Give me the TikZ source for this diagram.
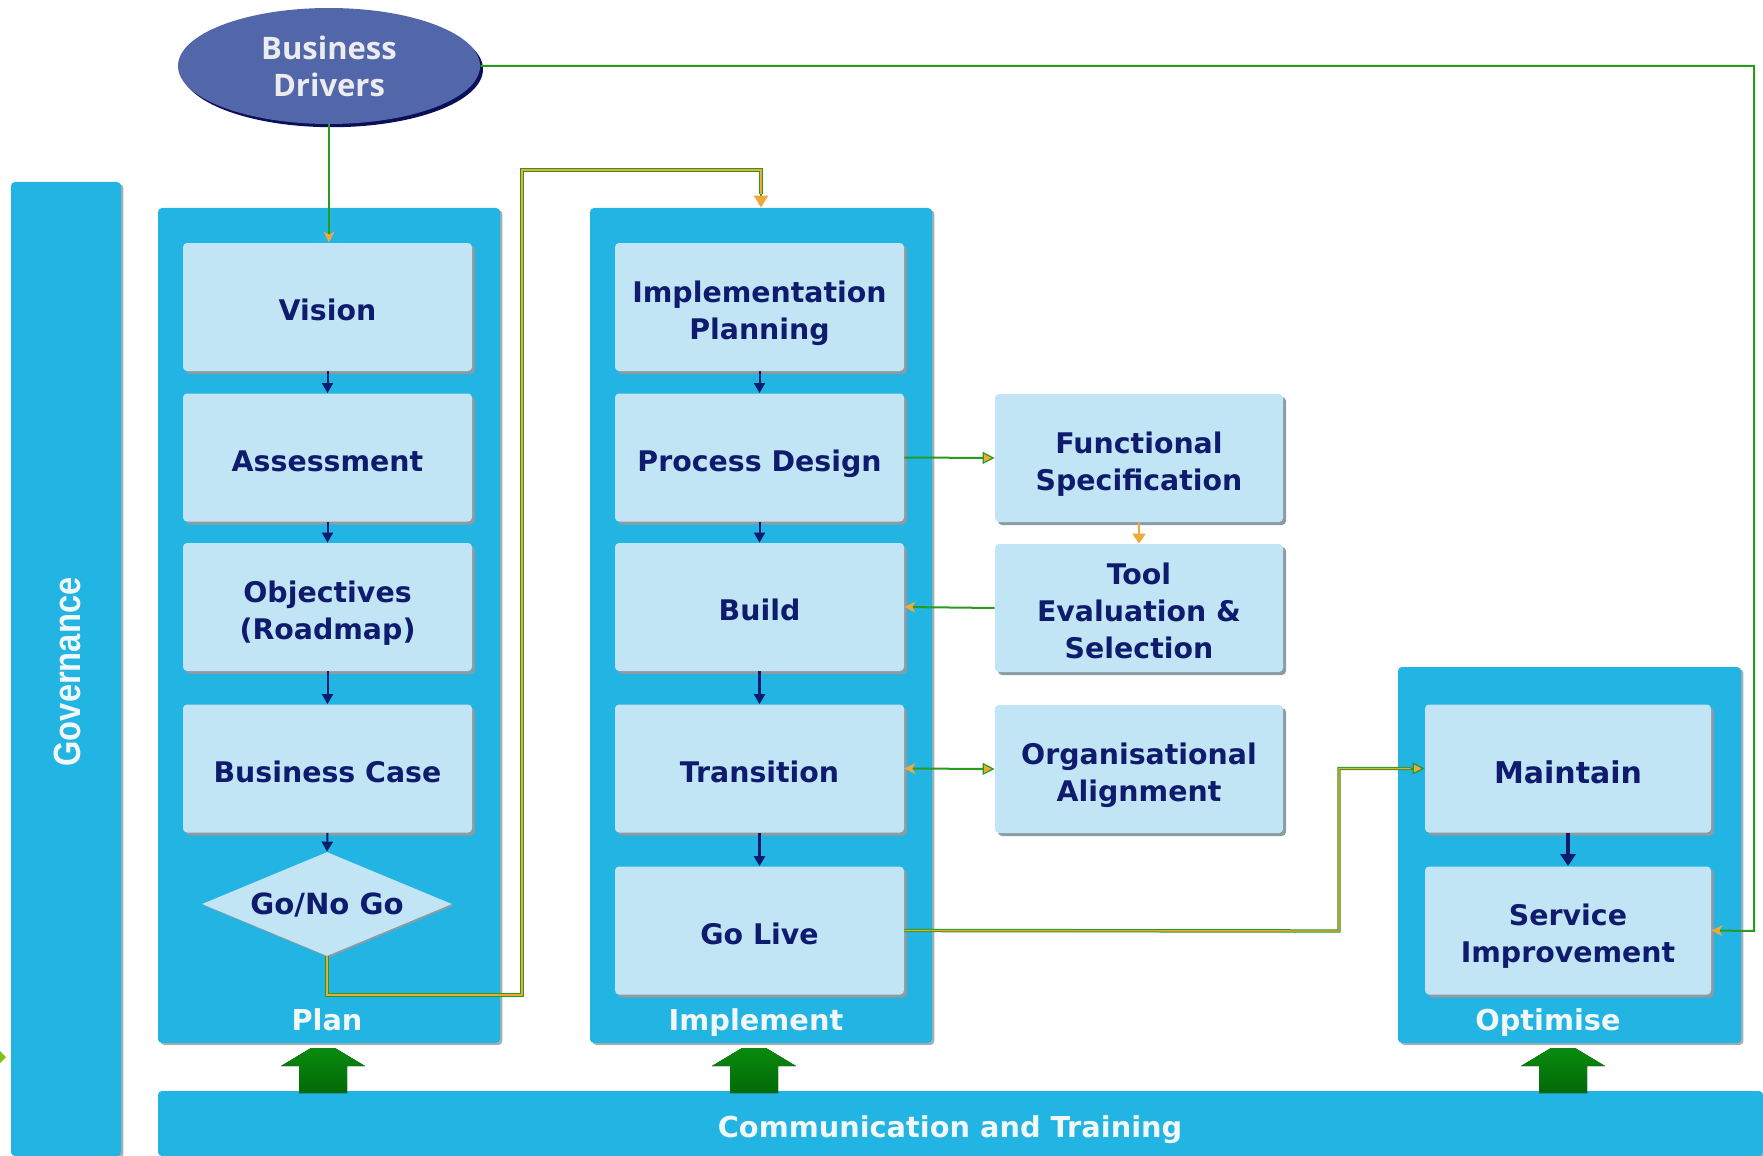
\documentclass[tikz,border=0pt]{standalone}
\usepackage{fontspec}
\usepackage{graphicx}
\setmainfont{DejaVu Sans}
\newfontfamily\bdfont{Open Sans}
\newfontfamily\govfont{Liberation Sans}
\usetikzlibrary{shapes.geometric,arrows.meta,shadows}
\definecolor{outerblue}{HTML}{22B4E3}
\definecolor{innerblue}{HTML}{C2E5F5}
\definecolor{navytext}{HTML}{0F1C6E}
\definecolor{lineg}{HTML}{2A9A1E}
\definecolor{tiporange}{HTML}{F0A83A}
\definecolor{bdfill}{HTML}{5266AA}
\definecolor{bdshadow}{HTML}{0B0F5A}
\definecolor{bdtext}{HTML}{ECECEE}
\definecolor{shadowgray}{HTML}{8C9CA4}
\definecolor{arrowgreen}{HTML}{0A8A0E}
\definecolor{arrowdark}{HTML}{006A08}
\definecolor{lbltext}{HTML}{F2F7F8}
\begin{document}
\begin{tikzpicture}[x=0.5pt,y=-0.5pt,
  outerbox/.style={fill=outerblue, rounded corners=2pt, inner sep=0pt,
    drop shadow={shadow xshift=1.2pt,shadow yshift=-1pt,fill=shadowgray,opacity=0.8}},
  boxtext/.style={align=center, text=navytext, inner sep=0pt, text depth=0pt, yshift=-1.6pt,
    font=\fontsize{14.2pt}{18.5pt}\selectfont\bfseries},
  stepbox/.style={fill=innerblue, rounded corners=2pt, minimum width=144.5pt,
    minimum height=64pt, inner sep=0pt,
    drop shadow={shadow xshift=1.5pt,shadow yshift=-1.5pt,fill=shadowgray,opacity=1},
    label={[boxtext]center:{#1}}},
  lbl/.style={text=lbltext, inner sep=0pt, text height=10.5pt, text depth=0pt,
    font=\fontsize{14.4pt}{17pt}\selectfont\bfseries},
  navyarrow/.style={draw=navytext, line width=1pt, -{Triangle[length=5pt,width=5.5pt]}},
  gline/.style={draw=lineg, line width=1pt},
  dline/.style={draw=lineg, line width=0.5pt, double=tiporange, double distance=0.7pt},
  toorange/.style={-{Stealth[fill=tiporange,color=tiporange,length=5.5pt,width=5.5pt,inset=1.5pt]}},
  togreen/.style={-{Triangle[fill=tiporange,color=lineg,line width=0.6pt,length=6pt,width=6pt]}},
  bothtips/.style={{Stealth[fill=tiporange,color=tiporange,length=5.5pt,width=5.5pt,inset=1.5pt]}-{Triangle[fill=tiporange,color=lineg,line width=0.6pt,length=6pt,width=6pt]}},
  bigarrow/.style={top color=arrowgreen, bottom color=arrowdark, draw=none}
]
\useasboundingbox (0,0) rectangle (1763,1156);

% side and bottom bars
\node[outerbox, minimum width=55pt, minimum height=487pt] (gov) at (66,669) {};
\node[text=lbltext, inner sep=0pt, rotate=90, font=\govfont\bfseries\fontsize{19pt}{20pt}\selectfont]
  (govlbl) at (67,672) {\scalebox{0.86}[1]{Governance}};

\node[outerbox, minimum width=802.5pt, minimum height=32.5pt] (comm) at (960.5,1123.5) {};
\node[lbl] (commlbl) at (950,1127) {Communication and Training};

% green block arrows
\foreach \cx in {323, 754, 1563}{
  \fill[bigarrow] (\cx-12,1048) -- (\cx+12,1048) -- (\cx+42,1066) -- (\cx+24,1066)
    -- (\cx+24,1093) -- (\cx-24,1093) -- (\cx-24,1066) -- (\cx-42,1066) -- cycle;
}

% phase boxes
\node[outerbox, minimum width=171pt, minimum height=417.5pt] (plan) at (329,625.5) {};
\node[outerbox, minimum width=171pt, minimum height=417.5pt] (impl) at (761,625.5) {};
\node[outerbox, minimum width=171.5pt, minimum height=188pt] (opt) at (1569.5,855) {};
\node[lbl] (planlbl) at (327,1020) {Plan};
\node[lbl] (impllbl) at (756,1020) {Implement};
\node[lbl] (optlbl) at (1548,1020) {Optimise};

% business drivers
\node[ellipse, fill=bdfill, minimum width=151pt, minimum height=58pt, inner sep=0pt,
  align=center, text=bdtext, font=\bdfont\bfseries\fontsize{15.5pt}{18.5pt}\selectfont,
  drop shadow={shadow xshift=1.5pt,shadow yshift=-1.6pt,fill=bdshadow,opacity=1}]
  (bd) at (329,66) {Business\\ Drivers};

% plan steps
\node[stepbox={Vision}] (vision) at (327.5,307) {};
\node[stepbox={Assessment}] (assess) at (327.5,457.5) {};
\node[stepbox={Objectives\\(Roadmap)}] (obj) at (327.5,607) {};
\node[stepbox={Business Case}] (bc) at (327.5,768.5) {};
\node[diamond, aspect=2.4, fill=innerblue, minimum width=125pt, minimum height=52pt, inner sep=0pt,
  text=navytext, text depth=0pt, font=\fontsize{14.6pt}{18pt}\selectfont\bfseries,
  drop shadow={shadow xshift=0.8pt,shadow yshift=-0.8pt,fill=shadowgray,opacity=1}]
  (gng) at (327,904) {Go/No Go};

% implement steps
\node[stepbox={Implementation\\Planning}] (ip) at (759.5,307) {};
\node[stepbox={Process Design}] (pd) at (759.5,457.5) {};
\node[stepbox={Build}] (build) at (759.5,607) {};
\node[stepbox={Transition}] (trans) at (759.5,768.5) {};
\node[stepbox={Go Live}] (golive) at (759.5,930.5) {};

% side steps
\node[stepbox={Functional\\Specification}, minimum width=144pt] (fs) at (1139,458) {};
\node[stepbox={Tool\\Evaluation \&\\Selection}, minimum width=144pt] (tool) at (1139,608) {};
\node[stepbox={Organisational\\Alignment}, minimum width=144pt] (org) at (1139,769) {};

% optimise steps
\node[stepbox={\fontsize{15pt}{18.5pt}\selectfont Maintain}, minimum width=143pt] (maint) at (1568,768.5) {};
\node[stepbox={Service\\Improvement}, minimum width=143pt] (serv) at (1568,930.5) {};

% navy step arrows
\draw[navyarrow] (vision.south) -- (assess.north);
\draw[navyarrow] (assess.south) -- (obj.north);
\draw[navyarrow] (obj.south) -- (bc.north);
\draw[navyarrow] (bc.south) -- (gng.north);
\draw[navyarrow] (ip.south) -- (pd.north);
\draw[navyarrow] (pd.south) -- (build.north);
\draw[navyarrow, line width=1.3pt] (build.south) -- (trans.north);
\draw[navyarrow, line width=1.3pt] (trans.south) -- (golive.north);
\draw[navyarrow, line width=1.6pt, -{Triangle[length=6pt,width=7.5pt]}] (maint.south) -- (serv.north);
\draw[draw=tiporange, line width=1pt, -{Triangle[fill=tiporange,length=5pt,width=6.5pt]}] (fs.south) -- (tool.north);

% connectors
\draw[gline, toorange] (bd.south) -- (bd.south |- vision.north);
\coordinate (rt) at (1754,931);
\draw[gline, toorange] (bd.east) -| (rt) -- (serv.east);
\coordinate (j1) at (522,995);
\coordinate (j2) at (522,170);
\draw[dline] (gng.south) |- (j1) -- (j2) -| ([yshift=7pt]impl.north);
\draw[gline, -{Triangle[fill=tiporange,color=tiporange,length=6pt,width=7pt]}] ([yshift=7pt]impl.north) -- (impl.north);
\draw[gline, togreen] (pd.east) -- (fs.west);
\draw[gline, toorange] (tool.west) -- (build.east);
\draw[gline, bothtips] (trans.east) -- (org.west);
\coordinate (k1) at (1339,931);
\draw[dline] (golive.east) -- (k1) |- ([xshift=-7pt]maint.west);
\draw[gline, togreen] ([xshift=-7pt]maint.west) -- (maint.west);

% small mark at the left edge
\fill[lineg!60!yellow] (0,1051) -- (6,1057) -- (0,1063) -- cycle;
\end{tikzpicture}
\end{document}
